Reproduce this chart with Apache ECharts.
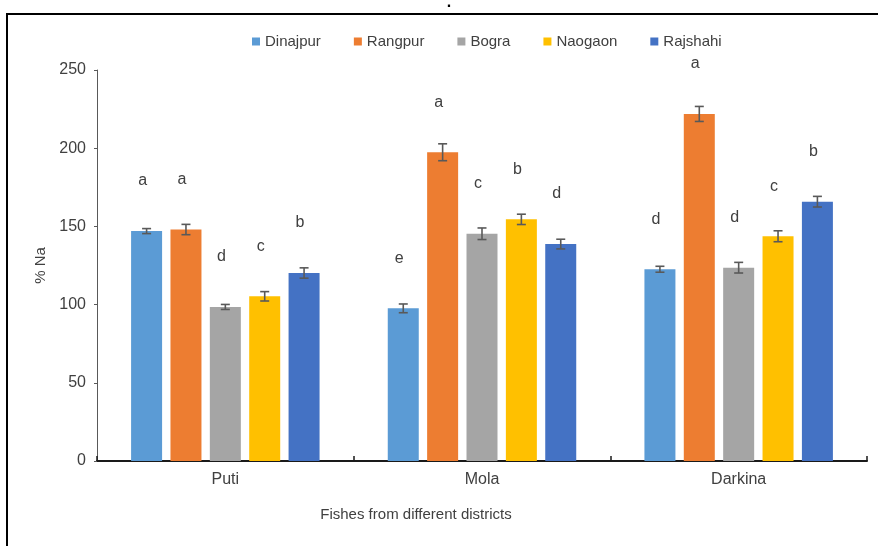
<!DOCTYPE html>
<html>
<head>
<meta charset="utf-8">
<title>% Na in fishes from different districts</title>
<script src="https://cdn.jsdelivr.net/npm/echarts@6/dist/echarts.min.js"></script>
<style>
  html, body { margin: 0; padding: 0; background: #ffffff; }
  #chart { width: 878px; height: 546px; }
</style>
</head>
<body>
<div id="chart"></div>
<script>
// Fish species on the x axis
const fishes = ['Puti', 'Mola', 'Darkina'];
// Sampling districts (one bar series each)
const districts = ['Dinajpur', 'Rangpur', 'Bogra', 'Naogaon', 'Rajshahi'];
const districtColors = ['#5B9BD5', '#ED7D31', '#A5A5A5', '#FFC000', '#4472C4'];

// Mean % Na per district, ordered Puti, Mola, Darkina
const dinajpurNa = [147.0, 97.6, 122.6];
const rangpurNa  = [148.0, 197.4, 221.9];
const bograNa    = [98.5, 145.3, 123.6];
const naogaonNa  = [105.3, 154.5, 143.7];
const rajshahiNa = [120.2, 138.7, 165.8];

// Standard errors
const dinajpurErr = [1.6, 2.8, 1.9];
const rangpurErr  = [3.3, 5.4, 4.8];
const bograErr    = [1.6, 3.7, 3.4];
const naogaonErr  = [3.0, 3.3, 3.5];
const rajshahiErr = [3.3, 3.1, 3.4];

// Significance letters
const dinajpurSig = ['a', 'e', 'd'];
const rangpurSig  = ['a', 'a', 'a'];
const bograSig    = ['d', 'c', 'd'];
const naogaonSig  = ['c', 'b', 'c'];
const rajshahiSig = ['b', 'd', 'b'];

// Y axis ticks
const yTicks = [0, 50, 100, 150, 200, 250];

const values = [dinajpurNa, rangpurNa, bograNa, naogaonNa, rajshahiNa];
const errors = [dinajpurErr, rangpurErr, bograErr, naogaonErr, rajshahiErr];
const letters = [dinajpurSig, rangpurSig, bograSig, naogaonSig, rajshahiSig];

const BAR_W = 31;
const BAR_GAP = '27%';
const FONT = 'Liberation Sans, Arial, sans-serif';
const TEXT = '#404040';

const barSeries = districts.map(function (name, s) {
  return {
    name: name,
    type: 'bar',
    barWidth: BAR_W,
    barGap: BAR_GAP,
    itemStyle: { color: districtColors[s] },
    label: {
      show: true,
      position: 'top',
      distance: 42,
      offset: [-4, 0],
      fontFamily: FONT,
      fontSize: 16,
      color: TEXT,
      formatter: function (p) { return letters[s][p.dataIndex]; }
    },
    data: values[s]
  };
});

// Error bar records: [fish index, district index, mean, error]
const errData = [];
districts.forEach(function (d, s) {
  fishes.forEach(function (f, c) {
    errData.push([c, s, values[s][c], errors[s][c]]);
  });
});

const errorSeries = {
  type: 'custom',
  name: 'error',
  z: 5,
  silent: true,
  encode: { x: 0, y: 2 },
  renderItem: function (params, api) {
    const cat = api.value(0);
    const idx = api.value(1);
    const v = api.value(2);
    const e = api.value(3);
    let offset;
    const layout = api.barLayout ? api.barLayout({ count: districts.length, barWidth: BAR_W, barGap: BAR_GAP }) : null;
    if (layout && layout[idx]) {
      offset = layout[idx].offsetCenter;
    } else {
      offset = (idx - (districts.length - 1) / 2) * BAR_W * 1.27;
    }
    const center = api.coord([cat, v]);
    const x = center[0] + offset;
    const yTop = api.coord([cat, v + e])[1];
    const yBot = api.coord([cat, v - e])[1];
    const cap = 4.5;
    const st = { stroke: '#595959', lineWidth: 1.6 };
    return {
      type: 'group',
      children: [
        { type: 'line', shape: { x1: x, y1: yTop, x2: x, y2: yBot }, style: st },
        { type: 'line', shape: { x1: x - cap, y1: yTop, x2: x + cap, y2: yTop }, style: st },
        { type: 'line', shape: { x1: x - cap, y1: yBot, x2: x + cap, y2: yBot }, style: st }
      ]
    };
  },
  data: errData
};

const chart = echarts.init(document.getElementById('chart'), null, { renderer: 'canvas' });

chart.setOption({
  animation: false,
  backgroundColor: '#ffffff',
  textStyle: { fontFamily: FONT },
  legend: {
    data: districts,
    left: 247,
    top: 29,
    itemWidth: 8,
    itemHeight: 8,
    itemGap: 33,
    icon: 'rect',
    textStyle: { fontFamily: FONT, fontSize: 15, color: TEXT }
  },
  grid: {
    left: 97,
    right: 11,
    top: 70,
    bottom: 85,
    containLabel: false,
    outerBoundsMode: 'none'
  },
  xAxis: {
    type: 'category',
    data: fishes,
    axisLine: { lineStyle: { color: '#1a1a1a', width: 2 } },
    axisTick: { show: true, inside: true, length: 5, lineStyle: { color: '#1a1a1a', width: 1.5 } },
    axisLabel: { fontFamily: FONT, fontSize: 16, color: TEXT, margin: 11 },
    splitLine: { show: false }
  },
  yAxis: {
    type: 'value',
    min: yTicks[0],
    max: yTicks[yTicks.length - 1],
    interval: yTicks[1] - yTicks[0],
    name: '% Na',
    nameLocation: 'middle',
    nameRotate: 90,
    nameGap: 45,
    nameTextStyle: { fontFamily: FONT, fontSize: 15, color: TEXT },
    axisLine: { show: true, lineStyle: { color: '#595959', width: 1 } },
    axisTick: { show: true, length: 3, lineStyle: { color: '#595959' } },
    axisLabel: { fontFamily: FONT, fontSize: 16, color: TEXT, margin: 11 },
    splitLine: { show: false }
  },
  graphic: [
    {
      type: 'rect',
      silent: true,
      shape: { x: 7, y: 14, width: 920, height: 600 },
      style: { fill: 'none', stroke: '#000000', lineWidth: 2 }
    },
    {
      type: 'text',
      x: 449,
      y: -5,
      style: { text: '.', font: 'bold 16px ' + FONT, fill: '#000000', align: 'center', verticalAlign: 'top' }
    },
    {
      type: 'text',
      x: 416,
      y: 515,
      style: { text: 'Fishes from different districts', font: '15px ' + FONT, fill: TEXT, align: 'center', verticalAlign: 'middle' }
    }
  ],
  series: barSeries.concat([errorSeries])
});
</script>
</body>
</html>
